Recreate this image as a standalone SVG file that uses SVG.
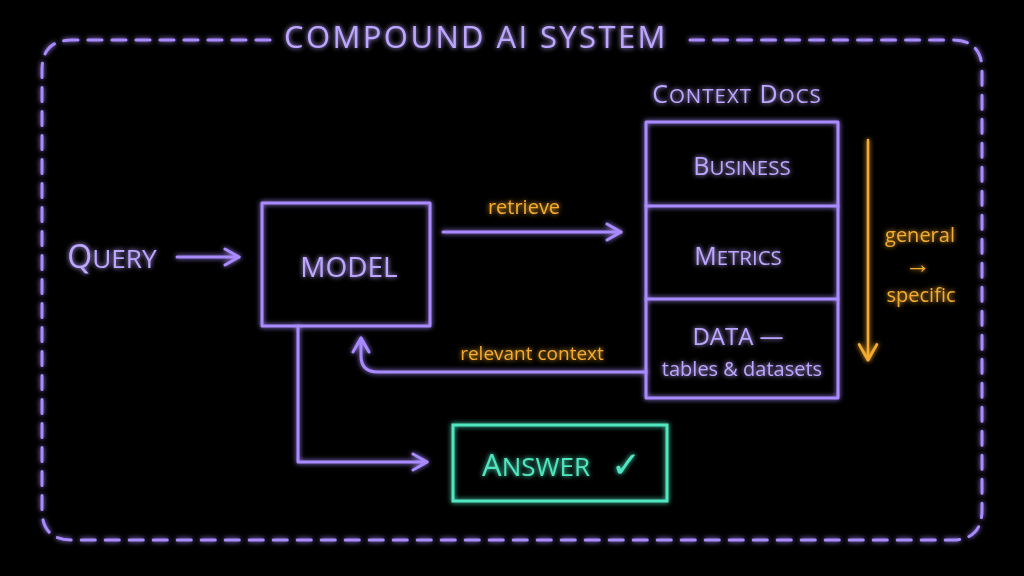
<svg xmlns="http://www.w3.org/2000/svg" width="1024" height="576" viewBox="0 0 1024 576">
<defs>
<filter id="glow" x="-20%" y="-20%" width="140%" height="140%">
<feGaussianBlur stdDeviation="2.5" result="b"/>
<feMerge><feMergeNode in="b"/><feMergeNode in="SourceGraphic"/></feMerge>
</filter>
<marker id="ah" viewBox="0 0 20 20" refX="18" refY="10" markerWidth="20" markerHeight="20" markerUnits="userSpaceOnUse" orient="auto">
<path d="M4 2 L18 10 L4 18" fill="none" stroke="#a98bff" stroke-width="3" stroke-linecap="round" stroke-linejoin="round"/>
</marker>
<marker id="aho" viewBox="0 0 20 20" refX="18" refY="10" markerWidth="22" markerHeight="22" markerUnits="userSpaceOnUse" orient="auto">
<path d="M4 2 L18 10 L4 18" fill="none" stroke="#f5ac2e" stroke-width="2.6" stroke-linecap="round" stroke-linejoin="round"/>
</marker>
<style>
.p{fill:none;stroke:#a98bff;stroke-width:3;stroke-linecap:round;stroke-linejoin:round}
.t{font-family:"Open Sans","DejaVu Sans",sans-serif;fill:#bda6ff;text-anchor:middle;font-weight:500}
.o{font-family:"Open Sans","DejaVu Sans",sans-serif;fill:#f5ac2e;text-anchor:middle;font-weight:500}
.s{font-size:0.82em}
</style>
</defs>
<rect width="1024" height="576" fill="#000"/>
<g id="frame" filter="url(#glow)">
<path d="M270 40 H72 Q42 40 42 70 V510 Q42 540 72 540 H952 Q982 540 982 510 V70 Q982 40 952 40 H690" fill="none" stroke="#a98bff" stroke-width="3" stroke-dasharray="14 10" stroke-linecap="round"/>
<text x="476" y="48" class="t" font-size="31" letter-spacing="2.4">COMPOUND AI SYSTEM</text>
</g>
<g id="query" filter="url(#glow)">
<text x="112" y="268" class="t" font-size="32">Q<tspan class="s">UERY</tspan></text>
</g>
<g id="model" filter="url(#glow)">
<rect x="262" y="203" width="168" height="123" class="p"/>
<text x="349" y="277" class="t" font-size="28">MODEL</text>
</g>
<g id="context-docs" filter="url(#glow)">
<text x="737" y="103" class="t" font-size="25" letter-spacing="1">C<tspan class="s">ONTEXT</tspan> D<tspan class="s">OCS</tspan></text>
<rect x="646" y="122" width="192" height="276" class="p"/>
<line x1="646" y1="206" x2="838" y2="206" class="p"/>
<line x1="646" y1="299" x2="838" y2="299" class="p"/>
<text x="742" y="175" class="t" font-size="25">B<tspan class="s">USINESS</tspan></text>
<text x="738" y="265" class="t" font-size="25">M<tspan class="s">ETRICS</tspan></text>
<text x="738" y="345" class="t" font-size="24">DATA —</text>
<text x="742" y="376" class="t" font-size="20">tables &amp; datasets</text>
</g>
<g id="answer" filter="url(#glow)">
<rect x="453" y="425" width="214" height="76" fill="none" stroke="#4fe6c0" stroke-width="3"/>
<text x="536" y="476" font-family="'Open Sans','DejaVu Sans',sans-serif" font-weight="500" fill="#4fe6c0" text-anchor="middle" font-size="31">A<tspan font-size="26">NSWER</tspan></text>
<text x="626" y="477" font-family="'DejaVu Sans',sans-serif" fill="#4fe6c0" text-anchor="middle" font-size="36">✓</text>
</g>
<g id="connectors" filter="url(#glow)">
<line x1="177" y1="257" x2="239" y2="257" class="p" marker-end="url(#ah)"/>
<line x1="443" y1="232" x2="621" y2="232" class="p" marker-end="url(#ah)"/>
<path d="M646 372 H378 Q361 372 361 356 V338" class="p" marker-end="url(#ah)"/>
<path d="M298 326 V462 H427" class="p" marker-end="url(#ah)"/>
<line x1="868" y1="140" x2="868" y2="360" stroke="#f5ac2e" stroke-width="2.6" stroke-linecap="round" marker-end="url(#aho)"/>
<text x="524" y="214" class="o" font-size="20">retrieve</text>
<text x="532" y="360" class="o" font-size="19">relevant context</text>
<text x="920" y="242" class="o" font-size="20">general</text>
<text x="918" y="273" font-family="'Liberation Sans',sans-serif" fill="#f5ac2e" text-anchor="middle" font-size="26">→</text>
<text x="921" y="302" class="o" font-size="20">specific</text>
</g>
</svg>
